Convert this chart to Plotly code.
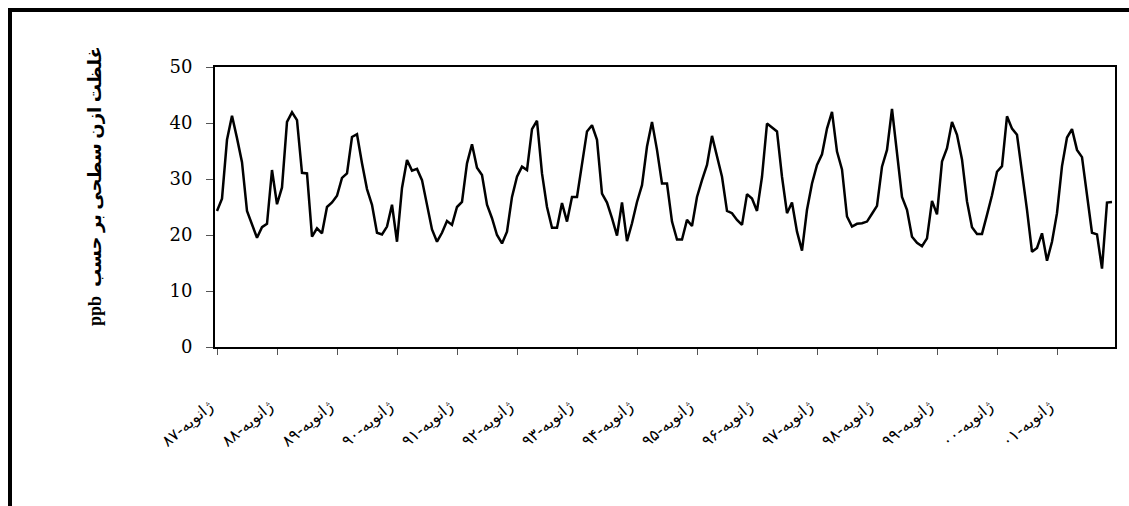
import plotly.graph_objects as go

# Monthly surface ozone concentration (ppb), Jan 1987 - Dec 2001
years_labels = ["ژانویه-۸۷", "ژانویه-۸۸", "ژانویه-۸۹", "ژانویه-۹۰", "ژانویه-۹۱",
                "ژانویه-۹۲", "ژانویه-۹۳", "ژانویه-۹۴", "ژانویه-۹۵", "ژانویه-۹۶",
                "ژانویه-۹۷", "ژانویه-۹۸", "ژانویه-۹۹", "ژانویه-۰۰", "ژانویه-۰۱"]

ozone_1987 = [24.3, 26.5, 37.0, 41.3, 37.3, 33.0, 24.3, 21.8, 19.5, 21.4, 22.0, 31.6]
ozone_1988 = [25.5, 28.5, 40.2, 41.9, 40.5, 31.1, 31.0, 19.7, 21.2, 20.3, 25.0, 25.8]
ozone_1989 = [27.0, 30.2, 31.0, 37.5, 38.0, 32.8, 28.2, 25.4, 20.4, 20.1, 21.5, 25.4]
ozone_1990 = [18.8, 28.4, 33.4, 31.5, 31.8, 29.8, 25.7, 21.0, 18.8, 20.4, 22.5, 21.8]
ozone_1991 = [25.0, 25.9, 32.8, 36.2, 32.0, 30.7, 25.4, 23.0, 20.0, 18.5, 20.6, 26.8]
ozone_1992 = [30.4, 32.2, 31.6, 38.9, 40.4, 31.0, 25.0, 21.3, 21.3, 25.7, 22.4, 26.8]
ozone_1993 = [26.8, 32.5, 38.5, 39.6, 37.0, 27.4, 25.8, 23.0, 19.9, 25.8, 18.9, 22.1]
ozone_1994 = [25.9, 28.9, 35.8, 40.2, 35.2, 29.2, 29.2, 22.4, 19.2, 19.2, 22.7, 21.6]
ozone_1995 = [26.8, 29.8, 32.5, 37.7, 34.3, 30.4, 24.3, 23.9, 22.7, 21.8, 27.3, 26.5]
ozone_1996 = [24.3, 30.4, 39.9, 39.2, 38.5, 30.4, 23.9, 25.8, 20.6, 17.2, 24.5, 29.2]
ozone_1997 = [32.5, 34.4, 39.0, 42.0, 34.9, 31.7, 23.3, 21.5, 22.0, 22.1, 22.4, 23.8]
ozone_1998 = [25.2, 32.2, 35.2, 42.5, 35.0, 26.8, 24.5, 19.7, 18.6, 18.0, 19.4, 26.1]
ozone_1999 = [23.7, 33.1, 35.5, 40.2, 37.9, 33.5, 26.0, 21.4, 20.2, 20.2, 23.6, 27.1]
ozone_2000 = [31.3, 32.3, 41.2, 39.0, 37.9, 31.5, 24.5, 17.0, 17.7, 20.3, 15.4, 18.8]
ozone_2001 = [23.9, 32.3, 37.4, 38.9, 35.2, 33.9, 26.8, 20.4, 20.1, 14.0, 25.8, 25.9]

ozone = (ozone_1987 + ozone_1988 + ozone_1989 + ozone_1990 + ozone_1991 +
         ozone_1992 + ozone_1993 + ozone_1994 + ozone_1995 + ozone_1996 +
         ozone_1997 + ozone_1998 + ozone_1999 + ozone_2000 + ozone_2001)
month_index = list(range(len(ozone)))
tick_positions = [12 * k for k in range(len(years_labels))]

# y-axis title (Persian, displayed right-to-left: "غلظت" on top, "ppb" at the bottom)
y_title = "ppb  غلظت ازن سطحی بر حسب"

W, H = 1129, 506
L, R, T, B = 215, 14, 67, 159
pw, ph = W - L - R, H - T - B

fig = go.Figure()
fig.add_trace(go.Scatter(
    x=month_index, y=ozone, mode="lines",
    line=dict(color="black", width=2.5), showlegend=False,
    hoverinfo="skip"))

def px_x(p):
    return (p - L) / pw

def px_y(p):
    return (H - B - p) / ph

fig.update_layout(
    width=W, height=H,
    margin=dict(l=L, r=R, t=T, b=B),
    paper_bgcolor="white", plot_bgcolor="white",
    xaxis=dict(
        range=[-0.4, 179.6],
        tickvals=tick_positions, ticktext=years_labels,
        tickangle=-40,
        ticks="outside", ticklen=6, tickcolor="#555", tickwidth=1,
        ticklabelstandoff=36, ticklabelshift=-8,
        showgrid=False, zeroline=False,
        showline=True, linecolor="black", linewidth=2, mirror=True,
        tickfont=dict(family="DejaVu Sans", size=16, color="black"),
    ),
    yaxis=dict(
        range=[0, 50], dtick=10,
        ticks="outside", ticklen=7, tickcolor="#555", tickwidth=1,
        ticklabelstandoff=10,
        showgrid=False, zeroline=False,
        showline=True, linecolor="black", linewidth=2, mirror=True,
        tickfont=dict(family="DejaVu Serif", size=18, color="black"),
    ),
    annotations=[dict(
        text="<b>" + y_title + "</b>",
        xref="paper", yref="paper",
        x=px_x(95), y=px_y(186),
        xanchor="center", yanchor="middle",
        textangle=-90, showarrow=False,
        font=dict(family="Liberation Serif, DejaVu Sans", size=18, color="black"),
    )],
    shapes=[dict(
        type="rect", xref="paper", yref="paper",
        x0=px_x(10), x1=px_x(1140), y0=px_y(520), y1=px_y(10),
        line=dict(color="black", width=4), fillcolor="rgba(0,0,0,0)",
        layer="above",
    )],
)

fig.write_html("out.html", config={"displayModeBar": False},
               post_script="document.body.style.margin='0';")
